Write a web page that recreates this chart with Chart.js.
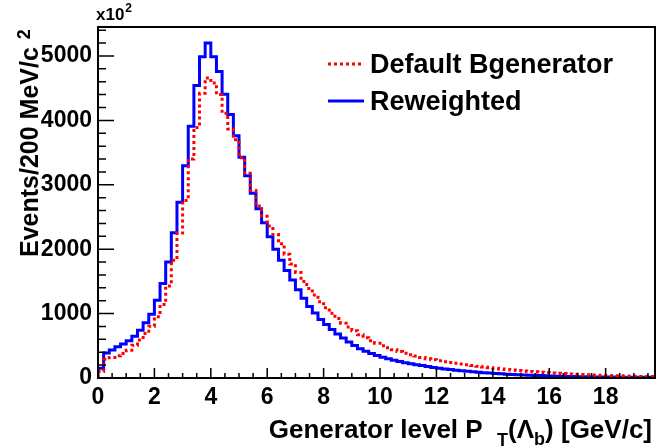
<!DOCTYPE html>
<html>
<head>
<meta charset="utf-8">
<script src="https://cdn.jsdelivr.net/npm/chart.js@4.4.1/dist/chart.umd.min.js"></script>
<style>
  html, body { margin: 0; padding: 0; background: #fff; }
  #wrap { width: 657px; height: 446px; }
</style>
</head>
<body>
<div id="wrap"><canvas id="ptChart" width="657" height="446"></canvas></div>
<script>
// generator level pT of Lambda_b, 0.2 GeV/c bins, counts in units of x10^2
const binWidth = 0.2;

const defaultGen = [
  100, 290, 320, 345, 380, 430, 510, 590, 690, 805,
  950, 1140, 1430, 1830, 2250, 2755, 3400, 3890, 4420, 4660,
  4580, 4400, 4110, 3865, 3700, 3420, 3180, 2910, 2670, 2510,
  2360, 2230, 2085, 1920, 1770, 1640, 1500, 1390, 1290, 1185,
  1090, 1005, 925, 850, 790, 735, 670, 625, 578, 540,
  500, 470, 440, 410, 385, 362, 340, 320, 300, 283,
  268, 253, 240, 228, 216, 205, 194, 182, 170, 160,
  150, 141, 132, 124, 116, 109, 102, 96, 90, 84,
  78, 73, 68, 63, 59, 55, 51, 47, 44, 41,
  38, 35, 33, 31, 29, 27, 25, 24, 22
];

const reweighted = [
  150, 390, 433, 485, 526, 578, 650, 743, 856, 991,
  1207, 1466, 1801, 2255, 2730, 3297, 3910, 4540, 4990, 5200,
  4990, 4760, 4407, 4090, 3760, 3426, 3142, 2870, 2627, 2410,
  2195, 2000, 1830, 1670, 1520, 1370, 1240, 1110, 1010, 910,
  830, 755, 685, 620, 560, 505, 455, 415, 380, 350,
  322, 298, 276, 256, 238, 222, 207, 193, 178, 164,
  152, 141, 131, 121, 112, 104, 96, 89, 82, 76,
  70, 65, 60, 55, 51, 47, 43, 40, 37, 34,
  31, 29, 27, 25, 23, 21, 20, 18, 17, 16,
  15, 14, 13, 12, 11, 11, 10, 10, 9
];

const xTicks = [0, 2, 4, 6, 8, 10, 12, 14, 16, 18];
const yTicks = [0, 1000, 2000, 3000, 4000, 5000];

const FONT = '"Liberation Sans", Arial, Helvetica, sans-serif';

// histogram -> step points (left bin edges + closing edge)
function toSteps(values) {
  const pts = [{x: 0, y: 0}];
  values.forEach((v, i) => pts.push({x: i * binWidth, y: v}));
  pts.push({x: values.length * binWidth, y: values[values.length - 1]});
  return pts;
}

function drawSegments(ctx, segs, xRight, baseline) {
  let total = 0;
  segs.forEach(s => {
    ctx.font = 'bold ' + s[2] + 'px ' + FONT;
    total += ctx.measureText(s[0]).width;
  });
  let cx = xRight - total;
  segs.forEach(s => {
    ctx.font = 'bold ' + s[2] + 'px ' + FONT;
    ctx.fillText(s[0], cx, baseline + s[1]);
    cx += ctx.measureText(s[0]).width;
  });
}

// ROOT-like frame, inward ticks, titles and legend
const rootStyle = {
  id: 'rootStyle',
  afterDatasetsDraw(chart) {
    const {ctx, chartArea: a, scales: {x, y}} = chart;
    ctx.save();
    ctx.strokeStyle = '#000';
    ctx.fillStyle = '#000';

    ctx.lineWidth = 1.5;
    ctx.beginPath();
    for (let k = 0; k <= 27; k++) {
      const v = k * 200;
      const py = y.getPixelForValue(v);
      const len = v % 1000 === 0 ? 16 : 8;
      ctx.moveTo(a.left, py);
      ctx.lineTo(a.left + len, py);
    }
    for (let k = 0; k <= 39; k++) {
      const v = k * 0.5;
      const px = x.getPixelForValue(v);
      const len = k % 4 === 0 ? 10 : 5;
      ctx.moveTo(px, a.bottom);
      ctx.lineTo(px, a.bottom - len);
    }
    ctx.stroke();

    ctx.lineWidth = 2;
    ctx.strokeRect(a.left, a.top, a.right - a.left, a.bottom - a.top);

    // x axis title
    ctx.textBaseline = 'alphabetic';
    ctx.textAlign = 'left';
    drawSegments(ctx, [
      ['Generator level P  ', 0, 26],
      ['T', 8, 18],
      ['(\u039B', 0, 26],
      ['b', 7, 18],
      [') [GeV/c]', 0, 26]
    ], 652, 438);

    // y axis title
    ctx.save();
    ctx.translate(38, 257);
    ctx.rotate(-Math.PI / 2);
    ctx.font = 'bold 25px ' + FONT;
    ctx.fillText('Events/200 MeV/c', 0, 0);
    const w = ctx.measureText('Events/200 MeV/c').width;
    ctx.font = 'bold 18px ' + FONT;
    ctx.fillText('2', w + 8, -8);
    ctx.restore();

    // exponent label
    ctx.font = 'bold 17px ' + FONT;
    ctx.fillText('x10', 96, 20);
    const ew = ctx.measureText('x10').width;
    ctx.font = 'bold 12px ' + FONT;
    ctx.fillText('2', 96 + ew + 1, 12);

    // legend
    ctx.lineWidth = 3;
    ctx.strokeStyle = '#ff0000';
    ctx.setLineDash([3, 3]);
    ctx.beginPath();
    ctx.moveTo(328, 64);
    ctx.lineTo(364, 64);
    ctx.stroke();
    ctx.setLineDash([]);
    ctx.strokeStyle = '#0000ff';
    ctx.beginPath();
    ctx.moveTo(328, 101);
    ctx.lineTo(364, 101);
    ctx.stroke();

    ctx.font = 'bold 27px ' + FONT;
    ctx.fillStyle = '#000';
    ctx.fillText('Default Bgenerator', 370, 73);
    ctx.fillText('Reweighted', 370, 110);
    ctx.restore();
  }
};

new Chart(document.getElementById('ptChart'), {
  type: 'line',
  data: {
    datasets: [
      {
        label: 'Default Bgenerator',
        data: toSteps(defaultGen),
        stepped: 'before',
        borderColor: '#ff0000',
        borderWidth: 3,
        borderDash: [3, 3],
        pointRadius: 0,
        fill: false
      },
      {
        label: 'Reweighted',
        data: toSteps(reweighted),
        stepped: 'before',
        borderColor: '#0000ff',
        borderWidth: 3,
        pointRadius: 0,
        fill: false
      }
    ]
  },
  options: {
    responsive: false,
    animation: false,
    devicePixelRatio: 1,
    layout: { padding: { top: 27, right: 2, left: 0, bottom: 0 } },
    plugins: { legend: { display: false }, tooltip: { enabled: false } },
    scales: {
      x: {
        type: 'linear',
        min: 0,
        max: 19.75,
        afterBuildTicks: s => { s.ticks = xTicks.map(v => ({value: v})); },
        afterFit: s => { s.height = 68; },
        grid: { display: false, drawTicks: false },
        border: { display: false },
        ticks: {
          color: '#000',
          font: { family: FONT, size: 23, weight: 'bold' },
          padding: 6,
          maxRotation: 0,
          autoSkip: false,
          callback: v => String(v)
        }
      },
      y: {
        min: 0,
        max: 5450,
        afterBuildTicks: s => { s.ticks = yTicks.map(v => ({value: v})); },
        afterFit: s => { s.width = 98; },
        grid: { display: false, drawTicks: false },
        border: { display: false },
        ticks: {
          color: '#000',
          font: { family: FONT, size: 23, weight: 'bold' },
          padding: 6,
          callback: v => String(v)
        }
      }
    }
  },
  plugins: [rootStyle]
});
</script>
</body>
</html>
